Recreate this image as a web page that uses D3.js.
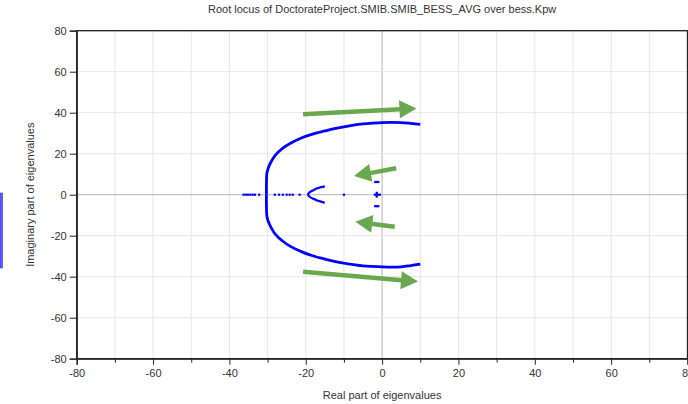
<!DOCTYPE html>
<html>
<head>
<meta charset="utf-8">
<script src="https://cdn.jsdelivr.net/npm/d3@7"></script>
<style>
  body { margin: 0; background: #fff; }
  text { font-family: "Liberation Sans", Arial, sans-serif; }
</style>
</head>
<body>
<script>
// root locus values (real, imaginary)
var upperBranch = [[-30.3, 0], [-30.3, 5], [-30.2, 10], [-30.0, 12], [-29.5, 14.5], [-29, 16.3],
  [-28, 19.2], [-26, 22.7], [-24, 25.1], [-21, 27.8], [-18, 29.7], [-15, 31.1], [-12.5, 32.2],
  [-10, 33.1], [-7.5, 33.9], [-5, 34.5], [-2.5, 34.9], [0, 35.2], [2.5, 35.3], [5, 35.2],
  [7.5, 34.8], [10, 34.3]];
var lowerBranch = [[-30.3, 0], [-30.3, -5], [-30.2, -10], [-30.0, -12], [-29.5, -14.4], [-29, -16.3],
  [-28, -19.2], [-26, -22.7], [-24, -25.2], [-21, -27.9], [-18, -29.9], [-15, -31.4], [-12.5, -32.5],
  [-10, -33.4], [-7.5, -34.1], [-5, -34.7], [-2.5, -35.0], [0, -35.2], [2.5, -35.3], [5, -35.2],
  [7.5, -34.6], [10, -33.9]];
var vUpper = [[-19.5, 0], [-19, 1.1], [-18, 2.2], [-17, 3.1], [-16, 3.7], [-15, 4.1]];
var vLower = [[-19.5, 0], [-19, -1], [-18, -2], [-17, -2.8], [-16, -3.4], [-15, -3.9]];
var axisPoints = [[-36.3, 0], [-35.7, 0], [-35.1, 0], [-34.5, 0], [-33.9, 0], [-33.3, 0], [-32.2, 0],
  [-28.1, 0], [-27.0, 0], [-26.0, 0], [-25.0, 0], [-24.2, 0], [-23.4, 0], [-21.6, 0], [-10, 0],
  [-1.9, 0], [-1.5, 0], [-1.1, 0], [-0.6, 0], [-1.4, 0.9], [-1.4, -0.9],
  [-1.8, 6.2], [-1.4, 6.2], [-1.0, 6.2], [-1.8, -5.6], [-1.4, -5.6], [-1.0, -5.6]];

// green annotation arrows (tail -> tip)
var arrows = [
  {from: [-20.7, 39.2], to: [9.0, 42.1]},
  {from: [-20.7, -37.6], to: [9.4, -42.4]},
  {from: [3.7, 12.9], to: [-7.35, 9.1]},
  {from: [3.3, -15.6], to: [-7.0, -13.2]}
];

var xTicks = [-80, -60, -40, -20, 0, 20, 40, 60, 80];
var xMinorTicks = [-70, -50, -30, -10, 10, 30, 50, 70];
var yTicks = [-80, -60, -40, -20, 0, 20, 40, 60, 80];

var titleText = 'Root locus of DoctorateProject.SMIB.SMIB_BESS_AVG over bess.Kpw';
var xLabel = 'Real part of eigenvalues';
var yLabel = 'Imaginary part of eigenvalues';

var svgWidth = 688, svgHeight = 404;
var margin = {top: 30.7, left: 76.7, right: 0.5, bottom: 45.3};
var width = svgWidth - margin.left - margin.right,
    height = svgHeight - margin.top - margin.bottom;

var svg = d3.select('body').append('svg')
  .attr('width', svgWidth)
  .attr('height', svgHeight);

// stray blue tab at the left edge of the screenshot
svg.append('rect')
  .attr('x', 0).attr('y', 193).attr('width', 2.6).attr('height', 75)
  .attr('fill', '#5c5cff').attr('stroke', '#3a3aff').attr('stroke-width', 0.6);

var g = svg.append('g')
  .attr('transform', `translate(${margin.left},${margin.top})`);

var xScale = d3.scaleLinear().domain([-80, 80]).range([0, width]);
var yScale = d3.scaleLinear().domain([-80, 80]).range([height, 0]);

// grid
var grid = g.append('g');
grid.selectAll('.vgrid').data(d3.merge([xTicks, xMinorTicks])).enter().append('line')
  .attr('x1', d => xScale(d)).attr('x2', d => xScale(d))
  .attr('y1', 0).attr('y2', height)
  .attr('stroke', d => d == 0 ? '#b4b4b4' : '#e6e6e6')
  .attr('stroke-width', 1);
grid.selectAll('.hgrid').data(yTicks).enter().append('line')
  .attr('x1', 0).attr('x2', width)
  .attr('y1', d => yScale(d)).attr('y2', d => yScale(d))
  .attr('stroke', d => d == 0 ? '#b4b4b4' : '#e6e6e6')
  .attr('stroke-width', 1);

// locus
var line = d3.line()
  .x(d => xScale(d[0]))
  .y(d => yScale(d[1]))
  .curve(d3.curveCatmullRom.alpha(0.5));

[upperBranch, lowerBranch].forEach(function(b) {
  g.append('path').datum(b)
    .attr('d', line)
    .attr('fill', 'none')
    .attr('stroke', '#0000ff')
    .attr('stroke-width', 2.8);
});
[vUpper, vLower].forEach(function(b) {
  g.append('path').datum(b)
    .attr('d', line)
    .attr('fill', 'none')
    .attr('stroke', '#0000ff')
    .attr('stroke-width', 2.2);
});

g.selectAll('.pt').data(axisPoints).enter().append('rect')
  .attr('class', 'pt')
  .attr('x', d => xScale(d[0]) - 1.1)
  .attr('y', d => yScale(d[1]) - 1.1)
  .attr('width', 2.2).attr('height', 2.2)
  .attr('fill', '#0000ff');

// arrows
var arrowGreen = '#6aa84f';
arrows.forEach(function(a) {
  var x1 = xScale(a.from[0]), y1 = yScale(a.from[1]),
      x2 = xScale(a.to[0]), y2 = yScale(a.to[1]);
  var ang = Math.atan2(y2 - y1, x2 - x1);
  var headLen = 17, headHalf = 9;
  var bx = x2 - headLen * Math.cos(ang), by = y2 - headLen * Math.sin(ang);
  g.append('line')
    .attr('x1', x1).attr('y1', y1).attr('x2', bx + 1 * Math.cos(ang)).attr('y2', by + 1 * Math.sin(ang))
    .attr('stroke', arrowGreen).attr('stroke-width', 4.5);
  var px = -Math.sin(ang), py = Math.cos(ang);
  g.append('path')
    .attr('d', `M${x2},${y2}L${bx + headHalf * px},${by + headHalf * py}L${bx - headHalf * px},${by - headHalf * py}Z`)
    .attr('fill', arrowGreen);
});

// frame
g.append('rect')
  .attr('x', 0).attr('y', 0).attr('width', width).attr('height', height)
  .attr('fill', 'none').attr('stroke', '#222').attr('stroke-width', 1.3);

// axes
var xAxis = d3.axisBottom(xScale).tickValues(xTicks).tickSize(6).tickPadding(5).tickFormat(d3.format('d'));
var xMinor = d3.axisBottom(xScale).tickValues(xMinorTicks).tickSize(4).tickFormat('');
var yAxis = d3.axisLeft(yScale).tickValues(yTicks).tickSize(7).tickPadding(3).tickFormat(d3.format('d'));

var gx = g.append('g').attr('transform', `translate(0,${height})`).call(xAxis);
g.append('g').attr('transform', `translate(0,${height})`).call(xMinor).select('.domain').remove();
var gy = g.append('g').call(yAxis);

g.selectAll('.domain').attr('stroke', '#222').attr('stroke-width', 1.3);
g.selectAll('.tick line').attr('stroke', '#222');
g.selectAll('.tick text').attr('fill', '#333').style('font-size', '11px');
gx.selectAll('.tick text').text(d => d < 0 ? '-' + Math.abs(d) : d);
gy.selectAll('.tick text').text(d => d < 0 ? '-' + Math.abs(d) : d);

// titles
svg.append('text')
  .attr('x', margin.left + xScale(0)).attr('y', 13)
  .attr('text-anchor', 'middle')
  .attr('fill', '#333')
  .style('font-size', '11px')
  .text(titleText);

svg.append('text')
  .attr('x', margin.left + xScale(0)).attr('y', 399)
  .attr('text-anchor', 'middle')
  .attr('fill', '#333')
  .style('font-size', '11px')
  .text(xLabel);

svg.append('text')
  .attr('transform', `translate(34,${margin.top + yScale(0)}) rotate(-90)`)
  .attr('text-anchor', 'middle')
  .attr('fill', '#333')
  .style('font-size', '11px')
  .text(yLabel);
</script>
</body>
</html>
